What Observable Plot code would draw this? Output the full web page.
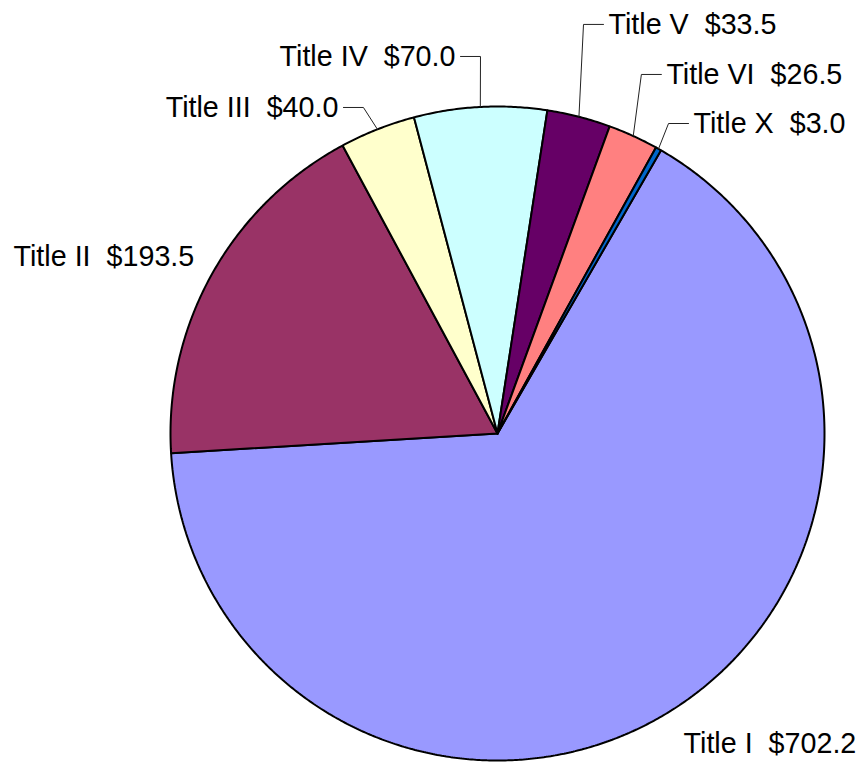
<!DOCTYPE html>
<html><head><meta charset="utf-8">
<script src="https://cdn.jsdelivr.net/npm/d3@7"></script>
<script src="https://cdn.jsdelivr.net/npm/@observablehq/plot@0.6"></script>
<style>body{margin:0;background:#fff}</style>
</head><body><div id="chart"></div>
<script>
// ---- data ----
const names  = ["Title I", "Title II", "Title III", "Title IV", "Title V", "Title VI", "Title X"];
const values = [702.2, 193.5, 40.0, 70.0, 33.5, 26.5, 3.0];
const colors = ["#9999FF", "#993366", "#FFFFCC", "#CCFFFF", "#660066", "#FF8080", "#0066CC"];

// ---- layout (pixels / unit radius) ----
const W = 861, H = 764, CX = 497, CY = 433, R = 327;
const firstSliceAngle = 30; // degrees clockwise from 12 o'clock
// label anchor (unit radius coords relative to pie centre): text anchor for no-leader labels, elbow for leader labels
const labelAnchor = [[0.569, 0.950], [-1.480, -0.539], [-0.410, -0.997], [-0.052, -1.153], [0.263, -1.251], [0.440, -1.098], [0.523, -0.948]];
const hasLeader = [false, false, true, true, true, true, true];
const leaderLen = 20 / R, textGap = 5 / R;
const fontSize = 28.7;

const rows = names.map((n, i) => ({name: n, value: values[i], i}));
const arcs = d3.pie().sort(null).value(d => d.value)
  .startAngle(firstSliceAngle * Math.PI / 180)
  .endAngle(firstSliceAngle * Math.PI / 180 + 2 * Math.PI)(rows);

const pt = (a, r) => [r * Math.sin(a), -r * Math.cos(a)];

// slice polygons
const slicePts = [];
for (const a of arcs) {
  const n = Math.max(2, Math.ceil((a.endAngle - a.startAngle) / (0.4 * Math.PI / 180)));
  slicePts.push({name: a.data.name, p: [0, 0]});
  for (let k = 0; k <= n; k++) {
    const ang = a.startAngle + (a.endAngle - a.startAngle) * k / n;
    slicePts.push({name: a.data.name, p: pt(ang, 1)});
  }
  slicePts.push({name: a.data.name, p: [0, 0]});
}

// leaders and labels
const leaderPts = [];
const labels = [];
arcs.forEach((a, idx) => {
  const i = a.data.i;
  const mid = (a.startAngle + a.endAngle) / 2;
  const txt = `${a.data.name}\u00a0 $${a.data.value.toFixed(1)}`;
  const [ex, ey] = labelAnchor[i];
  if (hasLeader[i]) {
    const side = Math.sin(mid) < 0 ? -1 : 1;
    const edge = pt(mid, 1);
    const hx = ex + side * leaderLen;
    leaderPts.push({name: a.data.name, p: edge}, {name: a.data.name, p: [ex, ey]}, {name: a.data.name, p: [hx, ey]});
    labels.push({text: txt, x: hx + side * textGap, y: ey, anchor: side < 0 ? "end" : "start"});
  } else {
    labels.push({text: txt, x: ex, y: ey, anchor: "start"});
  }
});

const chart = Plot.plot({
  width: W, height: H, margin: 0,
  x: {domain: [-CX / R, (W - CX) / R], range: [0, W], axis: null},
  y: {domain: [-CY / R, (H - CY) / R], range: [0, H], axis: null},
  color: {domain: names, range: colors},
  style: {background: "#fff"},
  marks: [
    Plot.line(slicePts, {x: d => d.p[0], y: d => d.p[1], z: "name", fill: "name", stroke: "#000", strokeWidth: 2, strokeLinejoin: "miter"}),
    Plot.line(leaderPts, {x: d => d.p[0], y: d => d.p[1], z: "name", stroke: "#222", strokeWidth: 1}),
    Plot.text(labels.filter(d => d.anchor === "start"), {x: "x", y: "y", text: "text", textAnchor: "start", fontSize, fontFamily: "Liberation Sans, Arial, sans-serif", fill: "#000"}),
    Plot.text(labels.filter(d => d.anchor === "end"), {x: "x", y: "y", text: "text", textAnchor: "end", fontSize, fontFamily: "Liberation Sans, Arial, sans-serif", fill: "#000"})
  ]
});
document.getElementById("chart").appendChild(chart);
</script>
</body></html>
